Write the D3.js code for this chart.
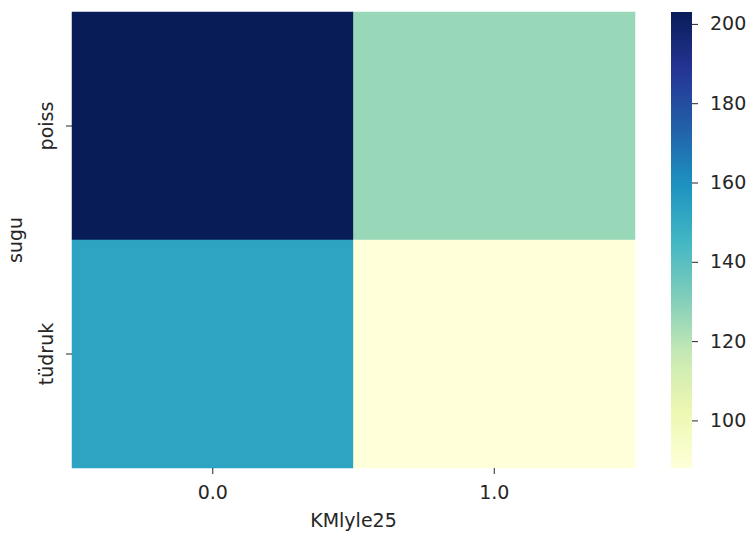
<!DOCTYPE html>
<html>
<head>
<meta charset="utf-8">
<script src="https://cdn.jsdelivr.net/npm/d3@7"></script>
<style>
  html, body { margin: 0; padding: 0; background: #fff; }
  svg text { font-family: "DejaVu Sans", sans-serif; fill: #262626; }
</style>
</head>
<body>
<svg id="chart" width="749" height="535"></svg>
<script>
// Counts by gender (rows) and KMlyle25 flag (columns)
const rows = ["poiss", "tüdruk"];
const cols = ["0.0", "1.0"];
const poissValues = [203, 126];
const tudrukValues = [153, 88];
const colorbarTicks = [100, 120, 140, 160, 180, 200];
const xTitle = "KMlyle25";
const yTitle = "sugu";

const cells = [
  ...cols.map((c, i) => ({ row: rows[0], col: c, value: poissValues[i] })),
  ...cols.map((c, i) => ({ row: rows[1], col: c, value: tudrukValues[i] }))
];

// YlGnBu, piecewise linear over the nine ColorBrewer stops
const ylgnbu = ["#ffffd9", "#edf8b1", "#c7e9b4", "#7fcdbb", "#41b6c4",
                "#1d91c0", "#225ea8", "#253494", "#081d58"];
const vmin = d3.min(cells, d => d.value);
const vmax = d3.max(cells, d => d.value);
const color = d3.scaleLinear()
  .domain(ylgnbu.map((_, i) => vmin + (vmax - vmin) * i / (ylgnbu.length - 1)))
  .range(ylgnbu)
  .interpolate(d3.interpolateRgb);

const svg = d3.select("#chart");
const plot = { left: 72, right: 635, top: 12, bottom: 468 };
const fontSize = 19;
const tickLen = 6;
const tickPad = 12;

const x = d3.scaleBand().domain(cols).range([plot.left, plot.right]);
const y = d3.scaleBand().domain(rows).range([plot.top, plot.bottom]);

svg.append("g").selectAll("rect")
  .data(cells)
  .join("rect")
  .attr("x", d => x(d.col))
  .attr("y", d => y(d.row))
  .attr("width", x.bandwidth())
  .attr("height", y.bandwidth())
  .attr("fill", d => color(d.value))
  .attr("stroke", d => color(d.value))
  .attr("stroke-width", 0.5);

// x axis
const xAxis = svg.append("g")
  .attr("transform", `translate(0,${plot.bottom})`)
  .call(d3.axisBottom(x).tickSize(tickLen).tickPadding(tickPad));
xAxis.select(".domain").remove();
xAxis.selectAll("line").attr("stroke", "#262626");
xAxis.selectAll("text").style("font-size", fontSize + "px").attr("fill", "#262626");

svg.append("text")
  .attr("x", (plot.left + plot.right) / 2)
  .attr("y", 527)
  .attr("text-anchor", "middle")
  .style("font-size", fontSize + "px")
  .text(xTitle);

// y axis with rotated labels
const yAxis = svg.append("g")
  .attr("transform", `translate(${plot.left},0)`)
  .call(d3.axisLeft(y).tickSize(tickLen));
yAxis.select(".domain").remove();
yAxis.selectAll("line").attr("stroke", "#262626");
yAxis.selectAll("text")
  .style("font-size", fontSize + "px")
  .attr("fill", "#262626")
  .attr("x", 0).attr("y", 0).attr("dy", null)
  .attr("text-anchor", "middle")
  .attr("transform", "translate(-19,0) rotate(-90)");

svg.append("text")
  .attr("transform", `translate(21.5,${(plot.top + plot.bottom) / 2}) rotate(-90)`)
  .attr("text-anchor", "middle")
  .style("font-size", fontSize + "px")
  .text(yTitle);

// colorbar
const cb = { left: 671, width: 21, top: 12, bottom: 468 };
const cbScale = d3.scaleLinear().domain([vmin, vmax]).range([cb.bottom, cb.top]);
const defs = svg.append("defs");
const grad = defs.append("linearGradient")
  .attr("id", "cbgrad").attr("x1", 0).attr("y1", 1).attr("x2", 0).attr("y2", 0);
d3.range(0, 1.0001, 0.02).forEach(t => {
  grad.append("stop").attr("offset", t)
    .attr("stop-color", color(vmin + t * (vmax - vmin)));
});
svg.append("rect")
  .attr("x", cb.left).attr("y", cb.top)
  .attr("width", cb.width).attr("height", cb.bottom - cb.top)
  .attr("fill", "url(#cbgrad)");

const cAxis = svg.append("g")
  .attr("transform", `translate(${cb.left + cb.width},0)`)
  .call(d3.axisRight(cbScale).tickValues(colorbarTicks).tickSize(tickLen).tickPadding(tickPad));
cAxis.select(".domain").remove();
cAxis.selectAll("line").attr("stroke", "#262626");
cAxis.selectAll("text").style("font-size", fontSize + "px").attr("fill", "#262626");
</script>
</body>
</html>
